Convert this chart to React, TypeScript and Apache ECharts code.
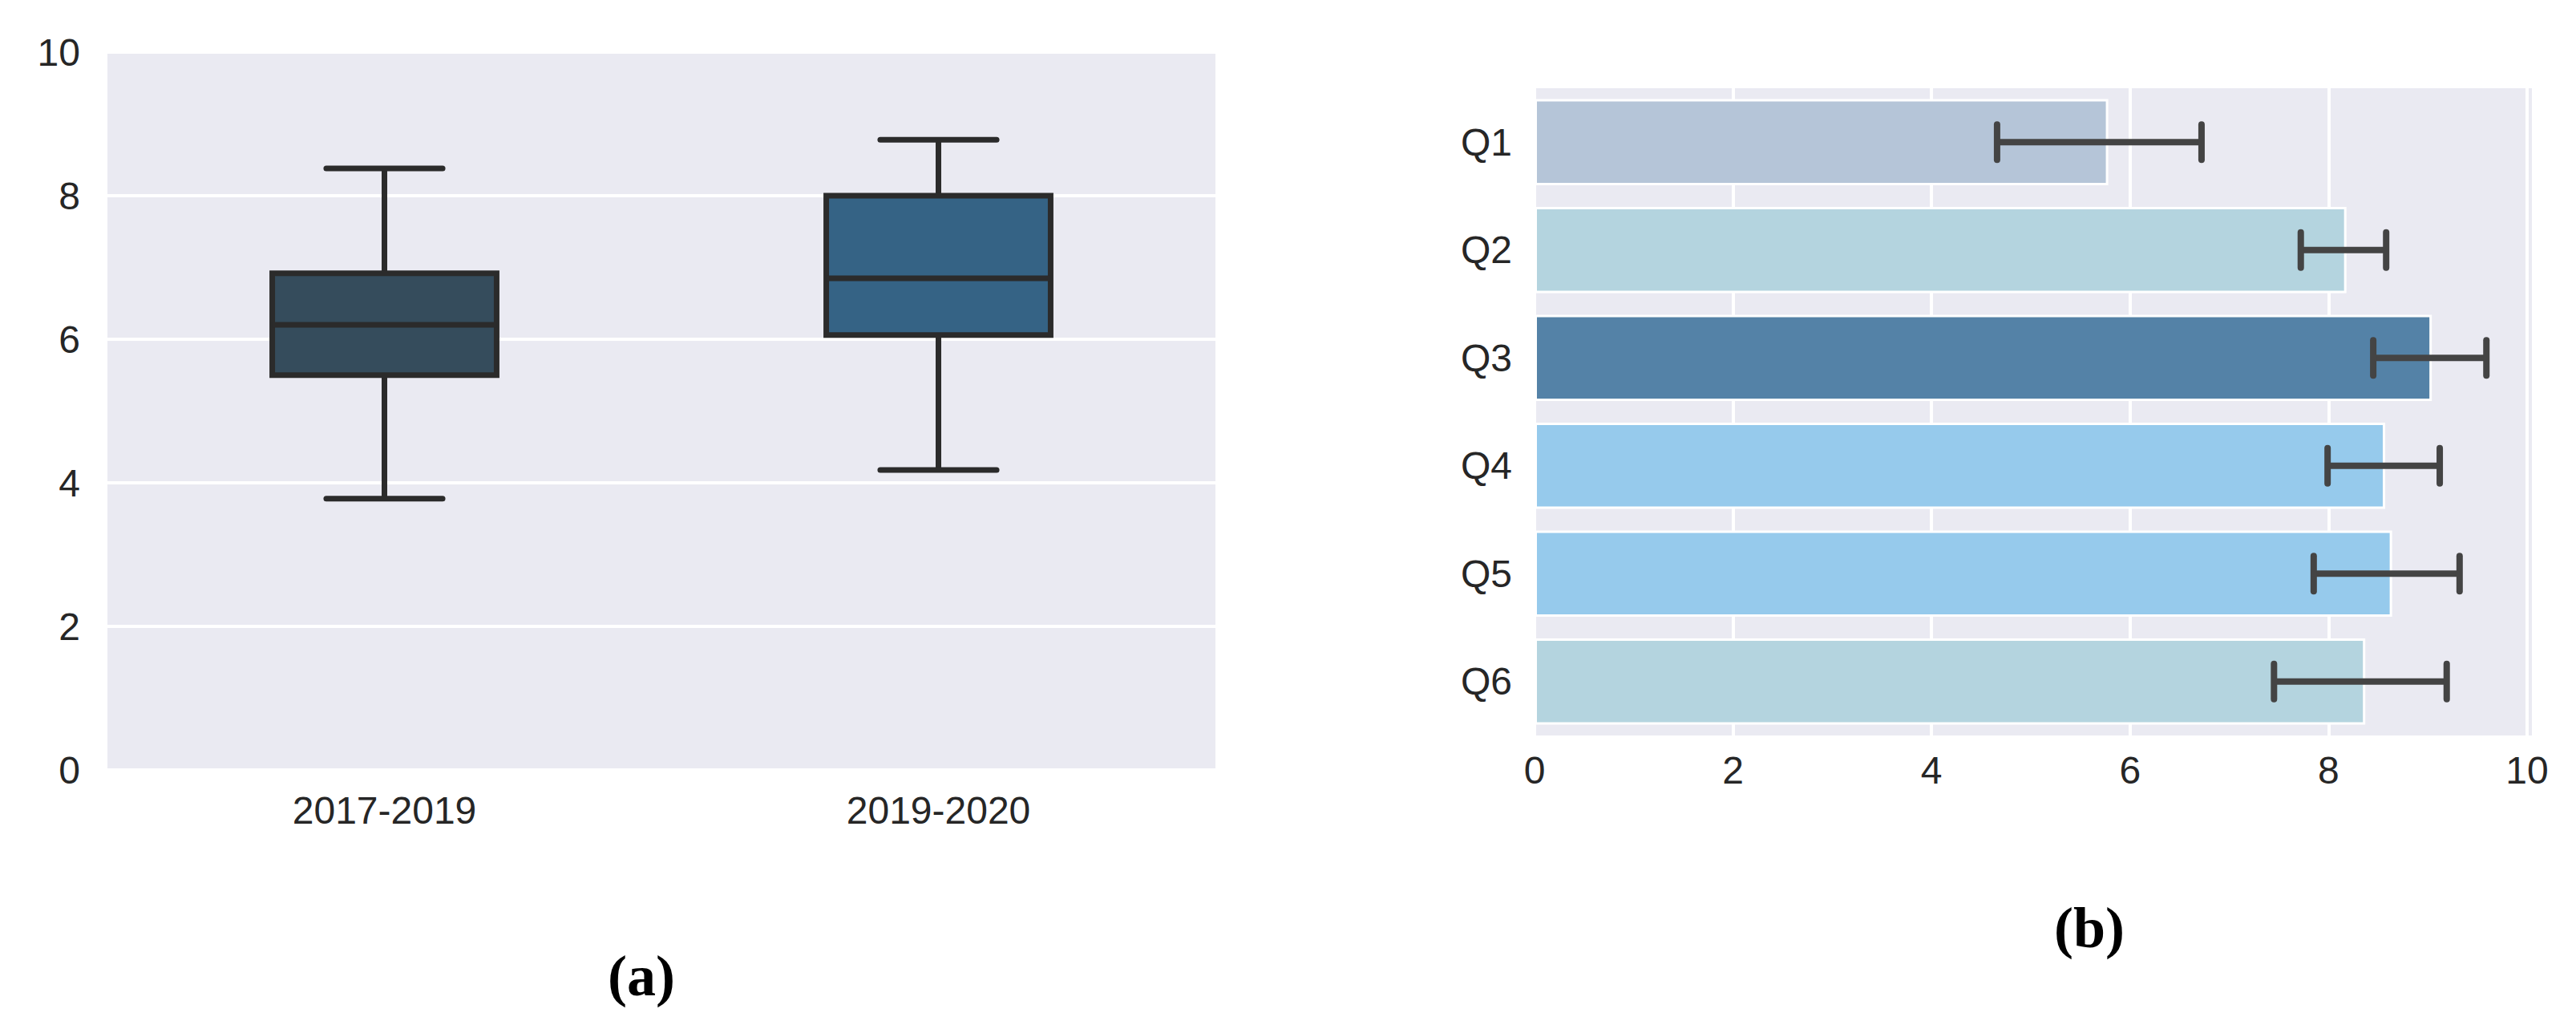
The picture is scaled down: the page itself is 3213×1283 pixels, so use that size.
import React, { useEffect, useRef } from "react";
import * as echarts from "echarts";

// ---- Panel (a): box plot ----
const boxCats = ["2017-2019", "2019-2020"];
const boxLow = [3.78, 4.18];
const boxQ1 = [5.5, 6.06];
const boxMed = [6.2, 6.85];
const boxQ3 = [6.92, 8.0];
const boxHigh = [8.38, 8.78];
const boxColors = ["#354c5c", "#356385"];

// ---- Panel (b): horizontal bars with error bars ----
const questions = ["Q1", "Q2", "Q3", "Q4", "Q5", "Q6"];
const barValues = [5.78, 8.18, 9.04, 8.57, 8.64, 8.37];
const errLow = [4.66, 7.72, 8.45, 7.99, 7.85, 7.45];
const errHigh = [6.72, 8.58, 9.59, 9.12, 9.32, 9.19];
const barColors = ["#b5c5d8", "#b4d4df", "#5482a7", "#96caec", "#96caec", "#b4d4df"];

const valueTicks = [0, 2, 4, 6, 8, 10];

const FONT = "'Liberation Sans', Arial, sans-serif";
const TXT = "#262626";
const BG = "#eaeaf2";

export default function App() {
  const ref = useRef<HTMLDivElement>(null);
  useEffect(() => {
    if (!ref.current) return;
    const chart = echarts.init(ref.current, undefined, { renderer: "svg" });
    const labelStyle = { fontFamily: FONT, fontSize: 48, color: TXT };
    const option: any = {
      animation: false,
      backgroundColor: "#ffffff",
      grid: [
        { left: 134, top: 65, width: 1382, height: 895, show: true, backgroundColor: BG, borderWidth: 0 },
        { left: 1914, top: 110, width: 1238, height: 807, show: true, backgroundColor: BG, borderWidth: 0 },
      ],
      xAxis: [
        {
          gridIndex: 0,
          type: "category",
          data: boxCats,
          axisLine: { show: false },
          axisTick: { show: false },
          axisLabel: { ...labelStyle, margin: 26 },
          splitLine: { show: false },
        },
        {
          gridIndex: 1,
          type: "value",
          min: valueTicks[0],
          max: valueTicks[valueTicks.length - 1],
          interval: 2,
          axisLine: { show: false },
          axisTick: { show: false },
          axisLabel: { ...labelStyle, margin: 19 },
          splitLine: { show: true, lineStyle: { color: "#ffffff", width: 4 } },
        },
      ],
      yAxis: [
        {
          gridIndex: 0,
          type: "value",
          min: valueTicks[0],
          max: valueTicks[valueTicks.length - 1],
          interval: 2,
          axisLine: { show: false },
          axisTick: { show: false },
          axisLabel: { ...labelStyle, margin: 34 },
          splitLine: { show: true, lineStyle: { color: "#ffffff", width: 4 } },
        },
        {
          gridIndex: 1,
          type: "category",
          data: questions,
          inverse: true,
          axisLine: { show: false },
          axisTick: { show: false },
          axisLabel: { ...labelStyle, margin: 28 },
          splitLine: { show: false },
        },
      ],
      graphic: [
        { type: "rect", shape: { x: 3152, y: 110, width: 6, height: 807 }, style: { fill: BG }, z: 0 },
        {
          type: "text",
          x: 800,
          y: 1217,
          style: {
            text: "(a)",
            font: "bold 72px 'Liberation Serif', 'DejaVu Serif', serif",
            fill: "#000000",
            align: "center",
            verticalAlign: "middle",
          },
        },
        {
          type: "text",
          x: 2606,
          y: 1157,
          style: {
            text: "(b)",
            font: "bold 72px 'Liberation Serif', 'DejaVu Serif', serif",
            fill: "#000000",
            align: "center",
            verticalAlign: "middle",
          },
        },
      ],
      series: [
        {
          type: "custom",
          xAxisIndex: 0,
          yAxisIndex: 0,
          data: boxCats.map((_, i) => [i, boxLow[i], boxQ1[i], boxMed[i], boxQ3[i], boxHigh[i]]),
          encode: { x: 0, y: [1, 2, 3, 4, 5] },
          renderItem: (params: any, api: any) => {
            const i = api.value(0);
            const band = api.size([1, 0])[0];
            const cx = api.coord([i, api.value(3)])[0];
            const yLow = api.coord([i, api.value(1)])[1];
            const yQ1 = api.coord([i, api.value(2)])[1];
            const yMed = api.coord([i, api.value(3)])[1];
            const yQ3 = api.coord([i, api.value(4)])[1];
            const yHigh = api.coord([i, api.value(5)])[1];
            const bw = band * 0.405;
            const cw = band * 0.21;
            const edge = "#2b2b2b";
            const lw = 7;
            return {
              type: "group",
              children: [
                { type: "line", shape: { x1: cx, y1: yQ3, x2: cx, y2: yHigh }, style: { stroke: edge, lineWidth: lw } },
                { type: "line", shape: { x1: cx, y1: yQ1, x2: cx, y2: yLow }, style: { stroke: edge, lineWidth: lw } },
                { type: "line", shape: { x1: cx - cw / 2, y1: yHigh, x2: cx + cw / 2, y2: yHigh }, style: { stroke: edge, lineWidth: lw, lineCap: "round" } },
                { type: "line", shape: { x1: cx - cw / 2, y1: yLow, x2: cx + cw / 2, y2: yLow }, style: { stroke: edge, lineWidth: lw, lineCap: "round" } },
                {
                  type: "rect",
                  shape: { x: cx - bw / 2, y: yQ3, width: bw, height: yQ1 - yQ3 },
                  style: { fill: boxColors[params.dataIndex], stroke: edge, lineWidth: lw },
                },
                { type: "line", shape: { x1: cx - bw / 2, y1: yMed, x2: cx + bw / 2, y2: yMed }, style: { stroke: edge, lineWidth: lw } },
              ],
            };
          },
        },
        {
          type: "bar",
          xAxisIndex: 1,
          yAxisIndex: 1,
          barWidth: "80%",
          data: barValues.map((v, i) => ({
            value: v,
            itemStyle: { color: barColors[i], borderColor: "#ffffff", borderWidth: 3 },
          })),
        },
        {
          type: "custom",
          xAxisIndex: 1,
          yAxisIndex: 1,
          z: 5,
          data: questions.map((_, i) => [errLow[i], errHigh[i], i]),
          encode: { x: [0, 1], y: 2 },
          renderItem: (params: any, api: any) => {
            const idx = api.value(2);
            const lo = api.coord([api.value(0), idx]);
            const hi = api.coord([api.value(1), idx]);
            const h = 22;
            const st = { stroke: "#444444", lineWidth: 8, lineCap: "round" };
            return {
              type: "group",
              children: [
                { type: "line", shape: { x1: lo[0], y1: lo[1], x2: hi[0], y2: hi[1] }, style: { stroke: "#444444", lineWidth: 8 } },
                { type: "line", shape: { x1: lo[0], y1: lo[1] - h, x2: lo[0], y2: lo[1] + h }, style: st },
                { type: "line", shape: { x1: hi[0], y1: hi[1] - h, x2: hi[0], y2: hi[1] + h }, style: st },
              ],
            };
          },
        },
      ],
    };
    chart.setOption(option);
    return () => chart.dispose();
  }, []);
  return (
    <div
      ref={ref}
      style={{ position: "absolute", left: 0, top: 0, width: "3213px", height: "1283px" }}
    />
  );
}
